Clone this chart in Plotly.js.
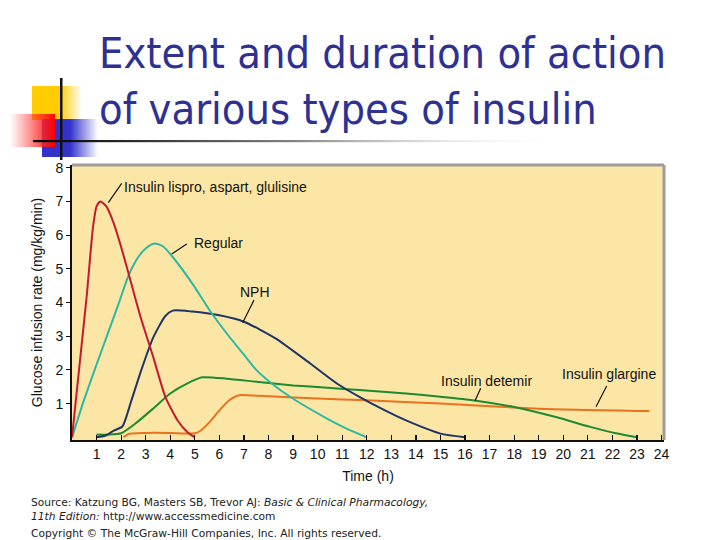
<!DOCTYPE html>
<html>
<head>
<meta charset="utf-8">
<script src="https://cdn.plot.ly/plotly-3.0.1.min.js"></script>
<style>html,body{margin:0;padding:0;background:#fff;}#chart{width:720px;height:540px;}</style>
</head>
<body>
<div id="chart"></div>
<script>
// ---- data ----
const seriesNames = ["Insulin lispro, aspart, glulisine", "Regular", "NPH", "Insulin detemir", "Insulin glargine"];
const lisproT = [0,0.3,0.6,0.85,1.0,1.15,1.4,1.7,2.0,2.4,2.8,3.3,3.8,4.3,4.7,5.0];
const lisproV = [0,2.1,4.2,6.2,6.85,7.0,6.85,6.35,5.65,4.6,3.55,2.4,1.2,0.5,0.15,0];
const regularT = [0,0.44,0.92,1.42,1.94,2.3,2.7,3.0,3.36,3.7,4.1,4.9,5.6,6.3,7.0,7.5,8.3,9.1,10.4,11.2,12.0];
const regularV = [0,1.0,2.0,3.0,4.05,4.8,5.35,5.6,5.75,5.67,5.35,4.56,3.77,3.08,2.45,2.0,1.5,1.1,0.55,0.25,0];
const nphT = [1.0,1.4,1.7,2.05,2.4,2.8,3.3,3.8,4.1,4.9,6.0,7.0,8.3,9.7,10.8,11.7,12.6,13.6,15.0,16.0];
const nphV = [0,0.06,0.2,0.32,1.05,1.95,2.95,3.6,3.76,3.73,3.62,3.43,2.93,2.19,1.59,1.2,0.85,0.5,0.11,0];
const detemirT = [1.0,1.5,2.0,2.6,3.3,4.0,4.7,5.3,6.3,7.6,9.0,10.4,11.7,13.6,15.0,16.3,18.0,19.7,21.1,22.2,23.0];
const detemirV = [0.08,0.08,0.12,0.42,0.85,1.3,1.6,1.78,1.74,1.64,1.54,1.47,1.4,1.3,1.2,1.1,0.9,0.6,0.31,0.11,0];
const glargineT = [2.1,2.3,3.0,4.0,5.0,5.2,5.6,6.0,6.4,6.8,7.6,10.0,12.0,15.0,19.0,23.5];
const glargineV = [0,0.1,0.13,0.13,0.12,0.18,0.45,0.8,1.1,1.25,1.23,1.15,1.1,1.0,0.85,0.78];
const xTicks = [1,2,3,4,5,6,7,8,9,10,11,12,13,14,15,16,17,18,19,20,21,22,23,24];
const yTicks = [1,2,3,4,5,6,7,8];
const titleText = "Extent and duration of action<br>of various types of insulin";
const xTitle = "Time (h)";
const yTitle = "Glucose infusion rate (mg/kg/min)";
const sourceLine1 = "Source: Katzung BG, Masters SB, Trevor AJ: <i>Basic &amp; Clinical Pharmacology,</i>";
const sourceLine2 = "<i>11th Edition:</i> http://www.accessmedicine.com";
const copyrightLine = "Copyright © The McGraw-Hill Companies, Inc. All rights reserved.";

// ---- layout geometry (px) ----
const W = 720, H = 540;
const L = 72, R = 664, T = 165, B = 440;
const px2x = p => (p - L) / (R - L);
const py2y = p => (B - p) / (B - T);

function mk(t, v, color) {
  return {x: t, y: v, type: 'scatter', mode: 'lines', hoverinfo: 'skip', showlegend: false,
          line: {color: color, width: 2, shape: 'spline', smoothing: 0.6}};
}
const traces = [
  mk(glargineT, glargineV, '#E8731F'),
  mk(detemirT, detemirV, '#1B8A30'),
  mk(nphT, nphV, '#1F3566'),
  mk(regularT, regularV, '#2DB8A4'),
  mk(lisproT, lisproV, '#C41A2E')
];

// decoration svg (top-left squares and rule)
const svg = `<svg xmlns="http://www.w3.org/2000/svg" width="600" height="100" viewBox="0 0 600 100">
<defs>
<linearGradient id="gy" x1="0" x2="1" y1="0" y2="0"><stop offset="0" stop-color="#FFCC00"/><stop offset="0.55" stop-color="#FFCC00"/><stop offset="1" stop-color="#FFCC00" stop-opacity="0"/></linearGradient>
<linearGradient id="gb" x1="0" x2="1" y1="0" y2="0"><stop offset="0" stop-color="#3333CC"/><stop offset="0.5" stop-color="#3333CC"/><stop offset="1" stop-color="#3333CC" stop-opacity="0"/></linearGradient>
<linearGradient id="gr" x1="0" x2="1" y1="0" y2="0"><stop offset="0" stop-color="#FF3030" stop-opacity="0"/><stop offset="0.75" stop-color="#FF2020" stop-opacity="0.85"/><stop offset="1" stop-color="#FF0000"/></linearGradient>
<linearGradient id="gl" x1="0" x2="1" y1="0" y2="0"><stop offset="0" stop-color="#000"/><stop offset="0.15" stop-color="#222"/><stop offset="0.5" stop-color="#888"/><stop offset="1" stop-color="#fff" stop-opacity="0"/></linearGradient>
</defs>
<rect x="32" y="16" width="50" height="34" fill="url(#gy)"/>
<rect x="42" y="49" width="56" height="38" fill="url(#gb)"/>
<rect x="10" y="44" width="45" height="33" fill="url(#gr)"/>
<rect x="33" y="70" width="535" height="2.2" fill="url(#gl)"/>
<rect x="60" y="8" width="2.5" height="82" fill="#111"/>
</svg>`;
const svgUri = 'data:image/svg+xml;charset=utf-8,' + encodeURIComponent(svg);

const labelFont = {family: 'Liberation Sans, Arial, sans-serif', size: 14, color: '#111'};
function lab(text, xp, yp, xanchor) {
  return {text: text, xref: 'x', yref: 'y', x: (xp - L) / (R - L) * 24.1, y: (437 - yp) / 33.67,
          xanchor: xanchor, yanchor: 'middle', showarrow: false, font: labelFont};
}
function leader(x0p, y0p, x1p, y1p) {
  return {type: 'line', xref: 'paper', yref: 'paper', x0: px2x(x0p), y0: py2y(y0p), x1: px2x(x1p), y1: py2y(y1p),
          line: {color: '#111', width: 1.2}};
}

const layout = {
  width: W, height: H,
  margin: {l: L, r: W - R, t: T, b: H - B, pad: 0},
  paper_bgcolor: '#ffffff',
  plot_bgcolor: '#FCE6A6',
  showlegend: false,
  title: {text: titleText, x: 99 / W, xanchor: 'left', xref: 'container', y: 1 - 68 / H, yanchor: 'top', yref: 'container',
          font: {family: 'DejaVu Sans Condensed, DejaVu Sans, sans-serif', size: 43, color: '#2E3192'}},
  xaxis: {range: [0, 24.1], tickmode: 'array', tickvals: xTicks, ticktext: xTicks.map(String),
          ticks: 'inside', ticklen: 5, tickwidth: 1.2, tickcolor: '#111',
          showline: true, linecolor: '#111', linewidth: 2, showgrid: false, zeroline: false,
          tickfont: labelFont, fixedrange: true,
          title: {text: xTitle, font: labelFont, standoff: 10}},
  yaxis: {range: [-0.08, 8.08], tickmode: 'array', tickvals: yTicks, ticktext: yTicks.map(String),
          ticks: 'outside', ticklen: 4, tickwidth: 1.2, tickcolor: '#111',
          showline: true, linecolor: '#111', linewidth: 2, showgrid: false, zeroline: false,
          tickfont: labelFont, fixedrange: true,
          title: {text: yTitle, font: labelFont, standoff: 10}},
  shapes: [
    {type: 'line', xref: 'paper', yref: 'paper', x0: 0, x1: 1, y0: 1, y1: 1, line: {color: '#9C9C9C', width: 3}},
    {type: 'line', xref: 'paper', yref: 'paper', x0: 1, x1: 1, y0: 0, y1: 1, line: {color: '#9C9C9C', width: 3}},
    leader(108.3, 202.7, 121.7, 183.3),
    leader(171.7, 254, 186.7, 244),
    leader(242.7, 322.7, 254, 300),
    leader(475, 400.7, 480.7, 388.3),
    leader(596, 406.7, 606.7, 386)
  ],
  annotations: [
    lab(seriesNames[0], 122, 187, 'left'),
    lab(seriesNames[1], 192, 243, 'left'),
    lab(seriesNames[2], 255, 292, 'center'),
    lab(seriesNames[3], 486, 381, 'center'),
    lab(seriesNames[4], 609, 374, 'center'),
    {text: sourceLine1 + '<br>' + sourceLine2, xref: 'paper', yref: 'paper', x: px2x(29), y: py2y(494),
     xanchor: 'left', yanchor: 'top', align: 'left', showarrow: false,
     font: {family: 'DejaVu Sans, Verdana, sans-serif', size: 10.7, color: '#222'}},
    {text: copyrightLine, xref: 'paper', yref: 'paper', x: px2x(29), y: py2y(525),
     xanchor: 'left', yanchor: 'top', align: 'left', showarrow: false,
     font: {family: 'DejaVu Sans, Verdana, sans-serif', size: 10.7, color: '#222'}}
  ],
  images: [
    {source: svgUri, xref: 'paper', yref: 'paper', x: px2x(0), y: py2y(70),
     sizex: 600 / (R - L), sizey: 100 / (B - T), xanchor: 'left', yanchor: 'top', sizing: 'stretch', layer: 'above'}
  ]
};

Plotly.newPlot('chart', traces, layout, {staticPlot: true, displayModeBar: false});
</script>
</body>
</html>
